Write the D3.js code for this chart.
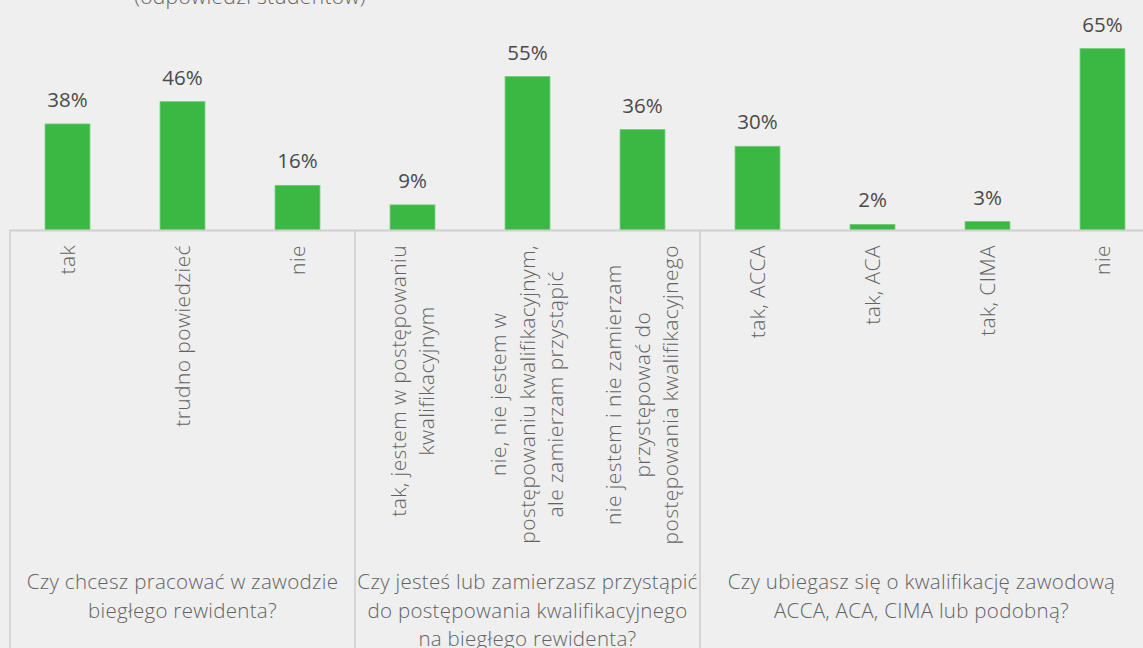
<!DOCTYPE html>
<html>
<head>
<meta charset="utf-8">
<script src="https://cdn.jsdelivr.net/npm/d3@7"></script>
<style>
  html, body { margin: 0; padding: 0; background: #EFEFEF; }
  svg { display: block; }
</style>
</head>
<body>
<svg id="chart" width="1143" height="648"></svg>
<script>
// ---- data ----
const categories = [
  ["tak"],
  ["trudno powiedzieć"],
  ["nie"],
  ["tak, jestem w postępowaniu", "kwalifikacyjnym"],
  ["nie, nie jestem w", "postępowaniu kwalifikacyjnym,", "ale zamierzam przystąpić"],
  ["nie jestem i nie zamierzam", "przystępować do", "postępowania kwalifikacyjnego"],
  ["tak, ACCA"],
  ["tak, ACA"],
  ["tak, CIMA"],
  ["nie"]
];
const values = [38, 46, 16, 9, 55, 36, 30, 2, 3, 65];
const valueLabels = ["38%", "46%", "16%", "9%", "55%", "36%", "30%", "2%", "3%", "65%"];
const groupNames = [
  ["Czy chcesz pracować w zawodzie", "biegłego rewidenta?"],
  ["Czy jesteś lub zamierzasz przystąpić", "do postępowania kwalifikacyjnego", "na biegłego rewidenta?"],
  ["Czy ubiegasz się o kwalifikację zawodową", "ACCA, ACA, CIMA lub podobną?"]
];
const groupSizes = [3, 3, 4];
const titleText = "(odpowiedzi studentów)";

// ---- layout ----
const W = 1143, H = 648;
const left = 10, right = 1160, axisY = 230;
const svg = d3.select("#chart");
const FONT = "'Open Sans', 'Noto Sans', sans-serif";
const LIGHT = "#636363";

const x = d3.scaleBand()
  .domain(d3.range(values.length))
  .range([left, right])
  .paddingInner(0.61)
  .paddingOuter(0.305);
const y = d3.scaleLinear().domain([0, 70]).range([axisY, axisY - 70 * 2.79]);
const step = x.step();

// title (cut off at top, as in the reference)
svg.append("text")
  .attr("x", 250).attr("y", 4)
  .attr("text-anchor", "middle")
  .attr("font-family", FONT).attr("font-size", 21).attr("font-weight", 300)
  .attr("letter-spacing", 0.3)
  .attr("fill", LIGHT)
  .text(titleText);

// bars
svg.append("g").selectAll("rect")
  .data(values)
  .join("rect")
  .attr("x", (d, i) => x(i))
  .attr("width", x.bandwidth())
  .attr("y", d => y(d))
  .attr("height", d => y(0) - y(d))
  .attr("fill", "#3AB843")
  .attr("stroke", "#6DCB73")
  .attr("stroke-width", 0.8);

// value labels
svg.append("g").selectAll("text")
  .data(values)
  .join("text")
  .attr("x", (d, i) => x(i) + x.bandwidth() / 2)
  .attr("y", d => y(d) - 17)
  .attr("text-anchor", "middle")
  .attr("font-family", FONT).attr("font-size", 20.5)
  .attr("fill", "#4a4a4a")
  .text((d, i) => valueLabels[i]);

// axis line
svg.append("line")
  .attr("x1", left).attr("x2", right)
  .attr("y1", axisY + 0.5).attr("y2", axisY + 0.5)
  .attr("stroke", "#CFCFCF").attr("stroke-width", 2);

// group dividers
let bounds = [0];
groupSizes.forEach(s => bounds.push(bounds[bounds.length - 1] + s));
svg.append("g").selectAll("line")
  .data(bounds)
  .join("line")
  .attr("x1", b => left + b * step).attr("x2", b => left + b * step)
  .attr("y1", axisY).attr("y2", H)
  .attr("stroke", "#CFCFCF").attr("stroke-width", 1.6);

// category labels (rotated, top-aligned, lines centred to each other)
const lh = 28.5;
const catG = svg.append("g").selectAll("g")
  .data(categories)
  .join("g")
  .attr("transform", (d, i) => `translate(${x(i) + x.bandwidth() / 2},245) rotate(-90)`);
catG.each(function(lines) {
  const g = d3.select(this);
  const n = lines.length;
  const texts = lines.map((t, j) => g.append("text")
    .attr("y", (j - (n - 1) / 2) * lh)
    .attr("dy", "0.35em")
    .attr("text-anchor", "middle")
    .attr("font-family", FONT).attr("font-size", 21).attr("font-weight", 300)
    .attr("letter-spacing", 0.4)
    .attr("fill", LIGHT)
    .text(t));
  const maxLen = d3.max(texts, t => t.node().getComputedTextLength());
  texts.forEach(t => t.attr("x", -maxLen / 2));
});

// group labels (centred within the visible part of each group)
svg.append("g").selectAll("text")
  .data(groupNames)
  .join("text")
  .attr("x", (d, i) => (left + bounds[i] * step + Math.min(left + bounds[i + 1] * step, W)) / 2)
  .attr("text-anchor", "middle")
  .attr("font-family", FONT).attr("font-size", 20.5).attr("font-weight", 300)
  .attr("letter-spacing", 0.3)
  .attr("fill", LIGHT)
  .each(function(lines) {
    const t = d3.select(this);
    lines.forEach((l, j) => t.append("tspan")
      .attr("x", t.attr("x"))
      .attr("y", 589 + j * 28.5)
      .text(l));
  });
</script>
</body>
</html>
